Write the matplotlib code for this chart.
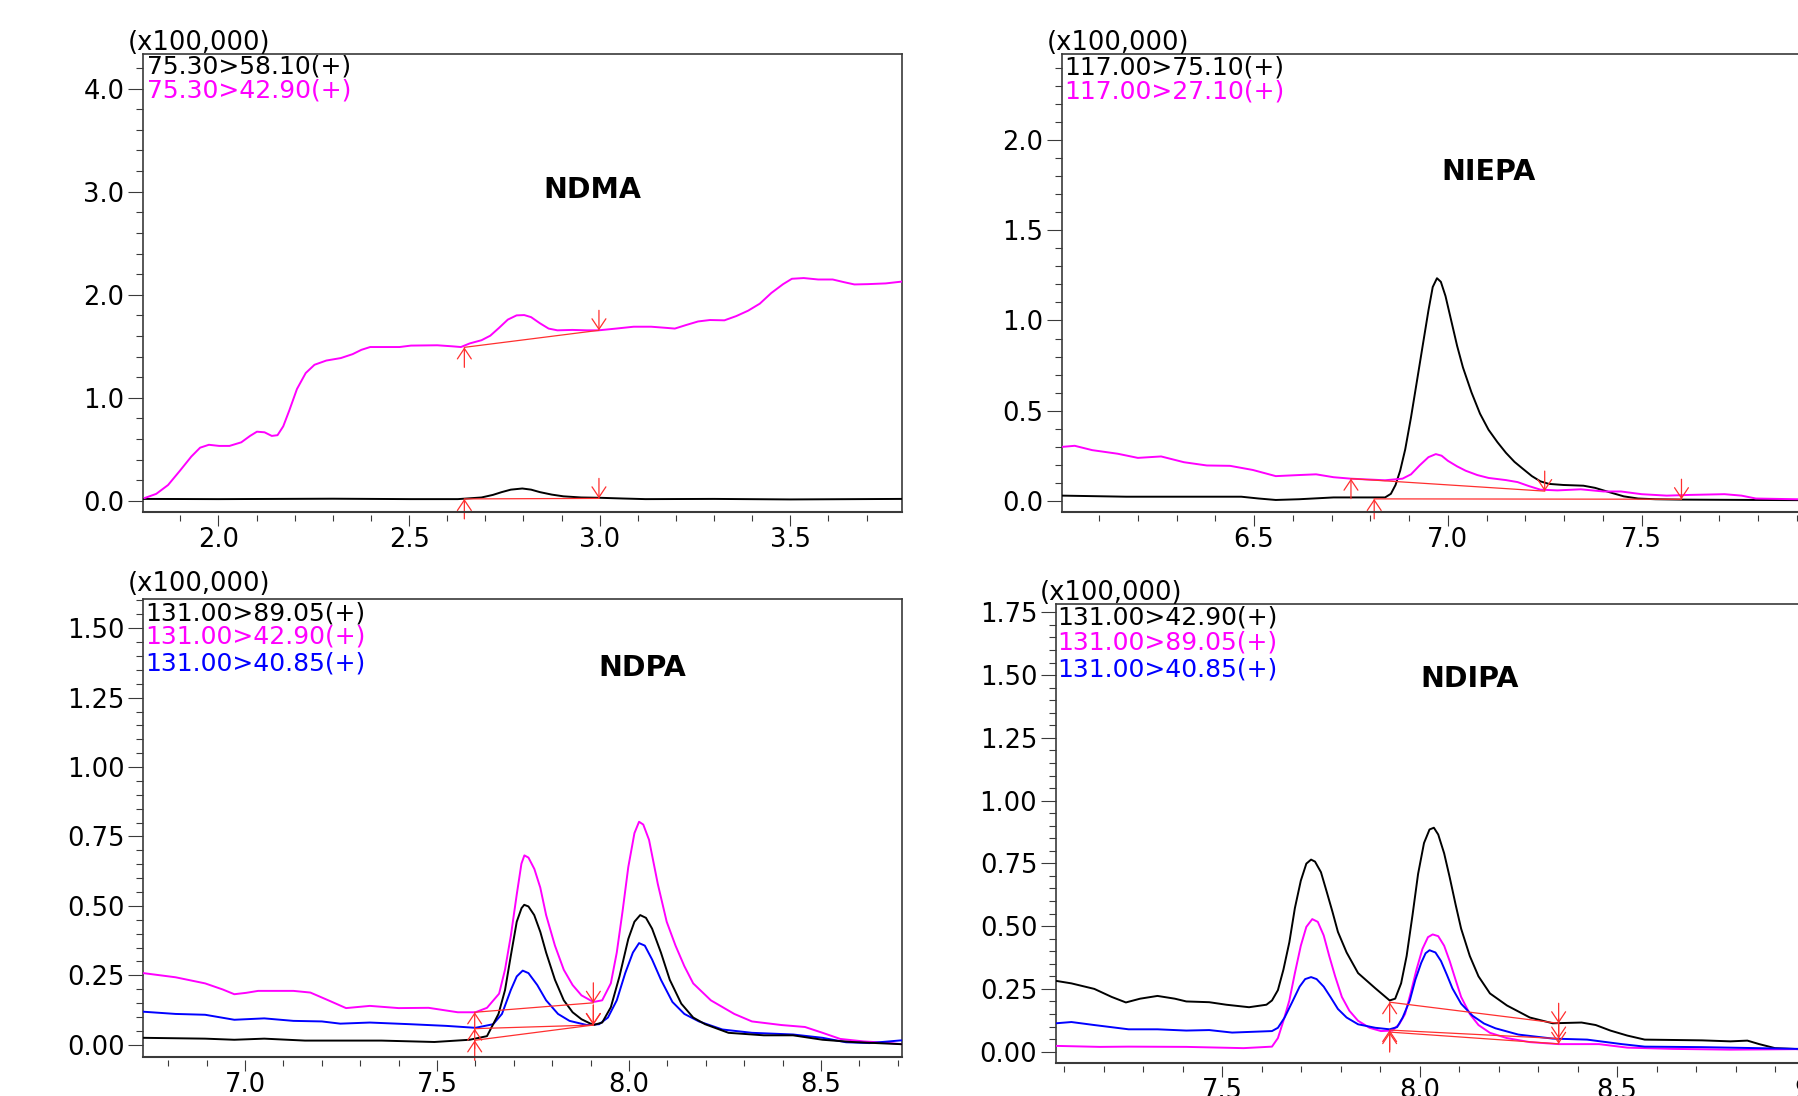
import matplotlib
matplotlib.use("Agg")
import matplotlib.pyplot as plt
from matplotlib.ticker import MultipleLocator, FormatStrFormatter

# ---------------- data ----------------
# Panel 1: NDMA
ndma_x_black = [1.803, 2.0, 2.3, 2.505, 2.628, 2.69, 2.72, 2.743, 2.767, 2.797, 2.82, 2.843, 2.874, 2.905,
                2.951, 3.0, 3.06, 3.12, 3.3, 3.5, 3.792]
ndma_y_black = [0.02, 0.018, 0.022, 0.018, 0.018, 0.034, 0.059, 0.086, 0.11, 0.121, 0.11, 0.086, 0.062,
                0.045, 0.034, 0.031, 0.024, 0.018, 0.02, 0.015, 0.02]
ndma_x_mag = [1.806, 1.837, 1.868, 1.899, 1.929, 1.952, 1.975, 2.002, 2.029, 2.06, 2.083, 2.101, 2.121,
              2.14, 2.155, 2.17, 2.186, 2.206, 2.229, 2.252, 2.283, 2.321, 2.352, 2.375, 2.398, 2.475,
              2.505, 2.574, 2.613, 2.636, 2.659, 2.69, 2.713, 2.736, 2.759, 2.782, 2.802, 2.82, 2.843,
              2.866, 2.889, 2.928, 2.966, 2.997, 3.043, 3.089, 3.135, 3.174, 3.197, 3.227, 3.258,
              3.289, 3.327, 3.358, 3.389, 3.42, 3.45, 3.481, 3.504, 3.535, 3.573, 3.611, 3.642, 3.668,
              3.703, 3.75, 3.793]
ndma_y_mag = [0.028, 0.069, 0.155, 0.293, 0.431, 0.517, 0.545, 0.534, 0.534, 0.569, 0.631, 0.672, 0.666,
              0.631, 0.638, 0.724, 0.879, 1.086, 1.241, 1.321, 1.362, 1.386, 1.424, 1.466, 1.493, 1.493,
              1.507, 1.51, 1.5, 1.493, 1.528, 1.559, 1.603, 1.679, 1.759, 1.8, 1.803, 1.783, 1.724,
              1.672, 1.655, 1.659, 1.655, 1.655, 1.672, 1.69, 1.69, 1.679, 1.672, 1.707, 1.741,
              1.755, 1.752, 1.793, 1.845, 1.914, 2.017, 2.103, 2.155, 2.162, 2.148, 2.148, 2.121, 2.1,
              2.103, 2.11, 2.128]
ndma_base = {"#ff00ff": [(2.645, 1.49), (2.998, 1.655)], "black": [(2.645, 0.02), (2.998, 0.025)]}

# Panel 2: NIEPA
niepa_x_black = [6.005, 6.17, 6.467, 6.512, 6.556, 6.616, 6.705, 6.81, 6.838, 6.853, 6.865, 6.877, 6.89,
                 6.905, 6.92, 6.935, 6.95, 6.961, 6.972, 6.982, 6.994, 7.009, 7.024, 7.039, 7.061, 7.083,
                 7.105, 7.128, 7.15, 7.172, 7.194, 7.217, 7.239, 7.261, 7.298, 7.35, 7.38, 7.417, 7.454,
                 7.491, 7.536, 7.6, 7.7, 7.8, 7.9, 8.0]
niepa_y_black = [0.030, 0.024, 0.024, 0.014, 0.006, 0.01, 0.02, 0.02, 0.02, 0.04, 0.089, 0.168, 0.286,
                 0.464, 0.661, 0.859, 1.056, 1.185, 1.234, 1.214, 1.135, 0.997, 0.859, 0.74, 0.602, 0.484,
                 0.395, 0.326, 0.267, 0.217, 0.178, 0.138, 0.109, 0.095, 0.089, 0.085, 0.073, 0.049, 0.026,
                 0.014, 0.01, 0.008, 0.007, 0.006, 0.005, 0.005]
niepa_x_mag = [6.005, 6.037, 6.082, 6.148, 6.2, 6.26, 6.319, 6.378, 6.438, 6.497, 6.556, 6.616, 6.66,
               6.705, 6.749, 6.838, 6.883, 6.905, 6.927, 6.95, 6.969, 6.984, 7.0, 7.024, 7.046, 7.076,
               7.105, 7.15, 7.18, 7.209, 7.239, 7.283, 7.343, 7.402, 7.447, 7.5, 7.565, 7.625, 7.714,
               7.758, 7.795, 7.9, 8.0]
niepa_y_mag = [0.30, 0.306, 0.282, 0.262, 0.239, 0.247, 0.215, 0.197, 0.195, 0.172, 0.138, 0.144, 0.148,
               0.132, 0.124, 0.115, 0.124, 0.148, 0.197, 0.243, 0.26, 0.251, 0.223, 0.192, 0.168, 0.144,
               0.128, 0.116, 0.105, 0.083, 0.063, 0.059, 0.065, 0.053, 0.053, 0.038, 0.03, 0.034, 0.038,
               0.03, 0.014, 0.01, 0.01]
niepa_base = {"#ff00ff": [(6.75, 0.124), (7.25, 0.055)], "black": [(6.81, 0.012), (7.603, 0.01)]}

# Panel 3: NDPA
ndpa_x_mag = [6.735, 6.819, 6.896, 6.942, 6.972, 7.003, 7.034, 7.126, 7.17, 7.217, 7.263, 7.325, 7.40,
              7.478, 7.554, 7.60, 7.63, 7.6616, 7.6769, 7.6922, 7.7075, 7.7197, 7.7274, 7.738, 7.7534,
              7.7688, 7.784, 7.807, 7.83, 7.853, 7.876, 7.907, 7.93, 7.9525, 7.968, 7.983, 7.998, 8.014,
              8.026, 8.037, 8.052, 8.075, 8.098, 8.121, 8.144, 8.167, 8.213, 8.274, 8.32, 8.397, 8.458,
              8.504, 8.55, 8.611, 8.672, 8.71]
ndpa_y_mag = [0.258, 0.243, 0.221, 0.199, 0.182, 0.187, 0.194, 0.194, 0.188, 0.16, 0.132, 0.14, 0.132,
              0.133, 0.117, 0.117, 0.133, 0.184, 0.27, 0.393, 0.541, 0.652, 0.682, 0.674, 0.633,
              0.566, 0.467, 0.357, 0.27, 0.215, 0.178, 0.154, 0.16, 0.221, 0.332, 0.48, 0.64, 0.762,
              0.803, 0.793, 0.738, 0.578, 0.443, 0.357, 0.283, 0.221, 0.16, 0.111, 0.084, 0.071, 0.064,
              0.043, 0.021, 0.012, 0.007, 0.002]
ndpa_x_black = [6.735, 6.896, 6.972, 7.05, 7.156, 7.355, 7.493, 7.585, 7.63, 7.66, 7.677, 7.692, 7.7075,
                7.72, 7.727, 7.738, 7.753, 7.769, 7.784, 7.807, 7.83, 7.853, 7.876, 7.907, 7.93, 7.9525,
                7.975, 7.998, 8.014, 8.029, 8.044, 8.06, 8.083, 8.106, 8.136, 8.167, 8.198, 8.259, 8.351,
                8.427, 8.504, 8.58, 8.71]
ndpa_y_black = [0.025, 0.022, 0.018, 0.022, 0.015, 0.015, 0.01, 0.018, 0.031, 0.111, 0.197, 0.32, 0.443,
                0.492, 0.504, 0.498, 0.467, 0.406, 0.332, 0.234, 0.16, 0.117, 0.092, 0.071, 0.08, 0.135,
                0.246, 0.381, 0.443, 0.467, 0.457, 0.418, 0.332, 0.234, 0.148, 0.098, 0.074, 0.043, 0.034,
                0.034, 0.018, 0.01, 0.002]
ndpa_x_blue = [6.735, 6.819, 6.896, 6.972, 7.05, 7.126, 7.2, 7.248, 7.325, 7.43, 7.524, 7.60, 7.646,
               7.669, 7.692, 7.7075, 7.723, 7.738, 7.761, 7.784, 7.815, 7.845, 7.89, 7.922, 7.945, 7.968,
               7.99, 8.01, 8.026, 8.041, 8.06, 8.083, 8.113, 8.144, 8.182, 8.243, 8.32, 8.427, 8.504,
               8.565, 8.626, 8.71]
ndpa_y_blue = [0.119, 0.111, 0.108, 0.09, 0.095, 0.086, 0.084, 0.076, 0.08, 0.074, 0.068, 0.061, 0.074,
               0.111, 0.197, 0.246, 0.267, 0.258, 0.215, 0.16, 0.111, 0.086, 0.071, 0.074, 0.098, 0.16,
               0.258, 0.332, 0.366, 0.357, 0.307, 0.234, 0.154, 0.111, 0.084, 0.055, 0.043, 0.037, 0.025,
               0.009, 0.006, 0.016]
ndpa_base = {"#ff00ff": [(7.598, 0.117), (7.907, 0.151)], "blue": [(7.598, 0.058), (7.907, 0.071)],
             "black": [(7.598, 0.016), (7.907, 0.071)]}

# Panel 4: NDIPA
ndipa_x_black = [7.079, 7.118, 7.176, 7.22, 7.256, 7.292, 7.336, 7.38, 7.409, 7.467, 7.51, 7.568, 7.612,
                 7.626, 7.641, 7.655, 7.67, 7.684, 7.699, 7.713, 7.725, 7.735, 7.75, 7.764, 7.779, 7.793,
                 7.815, 7.844, 7.888, 7.924, 7.938, 7.953, 7.967, 7.982, 7.996, 8.011, 8.025, 8.036,
                 8.047, 8.062, 8.076, 8.091, 8.105, 8.127, 8.149, 8.178, 8.221, 8.279, 8.337, 8.41,
                 8.446, 8.483, 8.526, 8.57, 8.715, 8.787, 8.83, 8.86, 8.9, 8.96, 9.1]
ndipa_y_black = [0.282, 0.272, 0.25, 0.218, 0.196, 0.211, 0.222, 0.211, 0.2, 0.197, 0.187, 0.177, 0.187,
                 0.204, 0.245, 0.327, 0.436, 0.572, 0.681, 0.749, 0.765, 0.757, 0.715, 0.64, 0.558, 0.477,
                 0.395, 0.313, 0.252, 0.204, 0.211, 0.272, 0.381, 0.545, 0.708, 0.831, 0.885, 0.892,
                 0.865, 0.79, 0.695, 0.586, 0.49, 0.381, 0.3, 0.232, 0.184, 0.136, 0.113, 0.116,
                 0.106, 0.084, 0.064, 0.048, 0.045, 0.041, 0.044, 0.03, 0.014, 0.01, 0.01]
ndipa_x_mag = [7.079, 7.19, 7.263, 7.409, 7.554, 7.626, 7.641, 7.655, 7.67, 7.684, 7.699, 7.713, 7.728,
               7.742, 7.757, 7.771, 7.786, 7.803, 7.822, 7.844, 7.873, 7.902, 7.931, 7.948, 7.963, 7.977,
               7.992, 8.007, 8.021, 8.033, 8.047, 8.062, 8.076, 8.091, 8.105, 8.127, 8.149, 8.178, 8.221,
               8.279, 8.352, 8.454, 8.526, 8.642, 8.787, 8.96, 9.1]
ndipa_y_mag = [0.023, 0.019, 0.02, 0.019, 0.014, 0.02, 0.054, 0.123, 0.204, 0.313, 0.422, 0.497, 0.528,
               0.517, 0.463, 0.381, 0.30, 0.218, 0.163, 0.123, 0.095, 0.082, 0.084, 0.109, 0.15, 0.232,
               0.327, 0.409, 0.456, 0.467, 0.46, 0.422, 0.361, 0.286, 0.218, 0.15, 0.106, 0.075, 0.054,
               0.038, 0.03, 0.03, 0.016, 0.011, 0.008, 0.01, 0.01]
ndipa_x_blue = [7.079, 7.118, 7.176, 7.263, 7.336, 7.409, 7.467, 7.525, 7.626, 7.641, 7.658, 7.677, 7.696,
                7.71, 7.725, 7.739, 7.757, 7.774, 7.793, 7.815, 7.844, 7.888, 7.924, 7.943, 7.957, 7.975,
                7.989, 8.004, 8.015, 8.025, 8.04, 8.054, 8.069, 8.083, 8.105, 8.134, 8.163, 8.192, 8.25,
                8.337, 8.424, 8.512, 8.57, 8.715, 8.96, 9.1]
ndipa_y_blue = [0.113, 0.118, 0.106, 0.089, 0.089, 0.084, 0.086, 0.076, 0.082, 0.095, 0.136, 0.197, 0.259,
                0.289, 0.297, 0.289, 0.259, 0.218, 0.17, 0.136, 0.109, 0.095, 0.089, 0.098, 0.136, 0.204,
                0.286, 0.354, 0.392, 0.404, 0.395, 0.361, 0.306, 0.252, 0.191, 0.143, 0.112, 0.093, 0.068,
                0.052, 0.048, 0.03, 0.02, 0.018, 0.011, 0.011]
ndipa_base = {"black": [(7.924, 0.197), (8.352, 0.113)], "blue": [(7.924, 0.086), (8.352, 0.052)],
              "#ff00ff": [(7.924, 0.078), (8.352, 0.031)]}

# labels
ndma_labels = ["75.30>58.10(+)", "75.30>42.90(+)"]
niepa_labels = ["117.00>75.10(+)", "117.00>27.10(+)"]
ndpa_labels = ["131.00>89.05(+)", "131.00>42.90(+)", "131.00>40.85(+)"]
ndipa_labels = ["131.00>42.90(+)", "131.00>89.05(+)", "131.00>40.85(+)"]

# ---------------- figure ----------------
W, H = 1798, 1096
fig = plt.figure(figsize=(W / 100, H / 100), dpi=100)
FRAME = "#3a3a3a"
MAG = "#ff00ff"
RED = "#ff2f2f"
ARROW = "->,head_length=0.75,head_width=0.5"


def px_axes(left, top, width, height):
    return fig.add_axes([left / W, 1 - (top + height) / H, width / W, height / H])


def ftext(x, y, s, **kw):
    fig.text(x / W, 1 - y / H, s, **kw)


panels = [
    dict(pos=(143.3, 54.3, 758.4, 457.4), xlim=(1.803, 3.792), ylim=(-0.104, 4.332), ymaj=1.0, ymin=0.2,
         fmt="%.1f",
         traces=[(ndma_x_black, ndma_y_black, "black"), (ndma_x_mag, ndma_y_mag, MAG)],
         base=ndma_base, labels=ndma_labels, lcolors=["black", MAG], lx=146.7, lbase=[73.8, 97.8],
         title="NDMA", tpos=(592.7, 197.9), xlab=(127.3, 42.5)),
    dict(pos=(1062.3, 54.3, 773.0, 457.4), xlim=(6.005, 8.0), ylim=(-0.059, 2.474), ymaj=0.5, ymin=0.1,
         fmt="%.1f",
         traces=[(niepa_x_black, niepa_y_black, "black"), (niepa_x_mag, niepa_y_mag, MAG)],
         base=niepa_base, labels=niepa_labels, lcolors=["black", MAG], lx=1064, lbase=[74.9, 98.0],
         title="NIEPA", tpos=(1488.6, 180.0), xlab=(1046.4, 42.5)),
    dict(pos=(143.3, 598.5, 758.4, 458.2), xlim=(6.735, 8.71), ylim=(-0.043, 1.607), ymaj=0.25, ymin=0.05,
         fmt="%.2f",
         traces=[(ndpa_x_mag, ndpa_y_mag, MAG), (ndpa_x_blue, ndpa_y_blue, "blue"),
                 (ndpa_x_black, ndpa_y_black, "black")],
         base=ndpa_base, labels=ndpa_labels, lcolors=["black", MAG, "blue"], lx=144.8,
         lbase=[620.8, 643.6, 670.0], title="NDPA", tpos=(642.6, 676.0), xlab=(127.5, 584.0)),
    dict(pos=(1056.0, 604.3, 798.0, 458.4), xlim=(7.079, 9.1), ylim=(-0.044, 1.782), ymaj=0.25, ymin=0.05,
         fmt="%.2f",
         traces=[(ndipa_x_black, ndipa_y_black, "black"), (ndipa_x_mag, ndipa_y_mag, MAG),
                 (ndipa_x_blue, ndipa_y_blue, "blue")],
         base=ndipa_base, labels=ndipa_labels, lcolors=["black", MAG, "blue"], lx=1057.3,
         lbase=[625.0, 649.3, 676.0], title="NDIPA", tpos=(1469.8, 687.0), xlab=(1039.3, 592.5)),
]

for p in panels:
    ax = px_axes(*p["pos"])
    for xs, ys, c in p["traces"]:
        ax.plot(xs, ys, color=c, lw=1.4, solid_joinstyle="round", solid_capstyle="round", zorder=3)
    for c, ((x0, y0), (x1, y1)) in p["base"].items():
        ax.plot([x0, x1], [y0, y1], color=RED, lw=0.9, zorder=4)
        ax.annotate("", xy=(x0, y0), xytext=(0, -20), textcoords="offset pixels",
                    arrowprops=dict(arrowstyle=ARROW, color=RED, lw=0.9,
                                    shrinkA=0, shrinkB=0, mutation_scale=10), zorder=4)
        ax.annotate("", xy=(x1, y1), xytext=(0, 20), textcoords="offset pixels",
                    arrowprops=dict(arrowstyle=ARROW, color=RED, lw=0.9,
                                    shrinkA=0, shrinkB=0, mutation_scale=10), zorder=4)
    ax.set_xlim(*p["xlim"])
    ax.set_ylim(*p["ylim"])
    ax.xaxis.set_major_locator(MultipleLocator(0.5))
    ax.xaxis.set_minor_locator(MultipleLocator(0.1))
    ax.yaxis.set_major_locator(MultipleLocator(p["ymaj"]))
    ax.yaxis.set_minor_locator(MultipleLocator(p["ymin"]))
    ax.xaxis.set_major_formatter(FormatStrFormatter("%.1f"))
    ax.yaxis.set_major_formatter(FormatStrFormatter(p["fmt"]))
    ax.tick_params(axis="y", which="major", direction="out", length=11, width=0.8, pad=2.5,
                   labelsize=18.5, color=FRAME)
    ax.tick_params(axis="y", which="minor", direction="out", length=5.3, width=0.8, color=FRAME)
    ax.tick_params(axis="x", which="major", direction="out", length=8, width=0.8, pad=0.5,
                   labelsize=18.5, color=FRAME)
    ax.tick_params(axis="x", which="minor", direction="out", length=4.2, width=0.8, color=FRAME)
    for s in ("top", "left", "right"):
        ax.spines[s].set_color(FRAME)
        ax.spines[s].set_linewidth(1.2)
    ax.spines["bottom"].set_position(("outward", 2.3))
    ax.spines["bottom"].set_visible(False)
    ax.plot([0, 1], [0, 0], transform=ax.transAxes, color=FRAME, lw=1.5, clip_on=False, zorder=5)
    # texts
    for s, c, yb in zip(p["labels"], p["lcolors"], p["lbase"]):
        ftext(p["lx"], yb, s, color=c, fontsize=18, ha="left", va="baseline")
    ftext(p["xlab"][0], p["xlab"][1], "(x100,000)", fontsize=18.5, ha="left", va="center")
    ftext(p["tpos"][0], p["tpos"][1], p["title"], fontsize=20.5, fontweight="bold", ha="center",
          va="baseline")

fig.savefig("out.png", dpi=100)
